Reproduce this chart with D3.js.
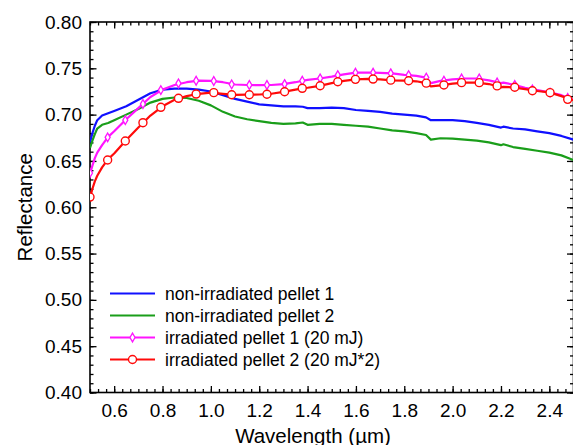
<!DOCTYPE html>
<meta charset="utf-8">
<style>
	body{ margin:0; background:#fff; }
	svg{ display:block; font-family:"Liberation Sans", Arial, sans-serif; }
	.tick line{ stroke:#000; stroke-width:1.3; }
	.tick text{ font-size:19px; fill:#000; }
	.frame{ fill:none; stroke:#000; stroke-width:1.6; }
	.title{ font-size:20.5px; fill:#000; }
	.legend text{ font-size:17.5px; fill:#000; }
</style>
<body>
<svg width="573" height="445" id="chart"></svg>
<script src="https://cdn.jsdelivr.net/npm/d3@7"></script>
<script>
	/* wavelength grid (um) used by the four spectra */
	var wave = [0.50,0.51,0.52,0.53,0.55,0.575,0.60,0.65,0.70,0.75,0.80,0.85,0.90,0.95,1.00,1.05,1.10,1.15,1.20,1.25,1.30,1.35,1.38,1.40,1.45,1.50,1.55,1.60,1.65,1.70,1.75,1.80,1.85,1.89,1.91,1.95,2.00,2.05,2.10,2.15,2.20,2.21,2.25,2.30,2.35,2.40,2.45,2.50];

	var nonIrr1 = [0.670,0.680,0.688,0.694,0.699,0.7015,0.704,0.709,0.716,0.723,0.727,0.728,0.728,0.727,0.725,0.721,0.717,0.714,0.711,0.710,0.709,0.709,0.7085,0.707,0.707,0.7075,0.707,0.705,0.704,0.703,0.701,0.700,0.699,0.697,0.694,0.694,0.694,0.693,0.691,0.689,0.686,0.687,0.685,0.684,0.682,0.680,0.677,0.673];
	var nonIrr2 = [0.664,0.672,0.679,0.685,0.689,0.691,0.694,0.700,0.706,0.713,0.717,0.7185,0.718,0.715,0.710,0.703,0.698,0.695,0.693,0.691,0.690,0.6905,0.6915,0.689,0.690,0.690,0.689,0.688,0.687,0.685,0.683,0.682,0.680,0.678,0.673,0.6745,0.674,0.673,0.672,0.670,0.667,0.668,0.665,0.663,0.661,0.659,0.656,0.651];
	var irr1 = [0.636,0.645,0.653,0.659,0.667,0.676,0.682,0.695,0.707,0.719,0.727,0.732,0.735,0.7368,0.7365,0.735,0.7325,0.732,0.7318,0.732,0.733,0.735,0.7366,0.7375,0.739,0.741,0.7435,0.7453,0.7455,0.745,0.7445,0.743,0.7418,0.740,0.734,0.7365,0.738,0.739,0.739,0.737,0.734,0.7345,0.7325,0.729,0.7265,0.724,0.721,0.716];
	var irr2 = [0.610,0.620,0.628,0.634,0.643,0.652,0.658,0.6725,0.686,0.699,0.709,0.716,0.720,0.7225,0.7237,0.7225,0.7213,0.7215,0.7217,0.7225,0.7245,0.727,0.7284,0.729,0.731,0.734,0.7365,0.7381,0.7385,0.738,0.737,0.7368,0.736,0.734,0.7305,0.7315,0.7335,0.7345,0.7345,0.733,0.7295,0.730,0.7295,0.7275,0.7255,0.724,0.720,0.7155];

	/* symbol positions on the irradiated spectra */
	var markWave = [0.500,0.573,0.646,0.719,0.793,0.866,0.939,1.012,1.086,1.159,1.232,1.305,1.378,1.452,1.525,1.598,1.671,1.744,1.818,1.891,1.964,2.037,2.110,2.184,2.257,2.330,2.403,2.476];
	var irr1Marks = [0.637,0.6755,0.694,0.7115,0.7265,0.7338,0.7366,0.7363,0.7327,0.732,0.732,0.733,0.7366,0.7392,0.7427,0.7453,0.7453,0.7446,0.7427,0.740,0.7366,0.739,0.739,0.7347,0.732,0.7273,0.7237,0.718];
	var irr2Marks = [0.611,0.651,0.6715,0.6913,0.7079,0.7176,0.7222,0.7237,0.7215,0.7215,0.722,0.7247,0.7284,0.7312,0.7355,0.7381,0.7384,0.7372,0.7366,0.734,0.732,0.7345,0.7345,0.731,0.7295,0.7258,0.7237,0.7165];

	var xTicks = [0.6,0.8,1.0,1.2,1.4,1.6,1.8,2.0,2.2,2.4];
	var yTicks = [0.40,0.45,0.50,0.55,0.60,0.65,0.70,0.75,0.80];
	var seriesNames = ["non-irradiated pellet 1","non-irradiated pellet 2","irradiated pellet 1 (20 mJ)","irradiated pellet 2 (20 mJ*2)"];
	var seriesColors = ["#1010ff","#1a9e1a","#ff14ff","#ff0a0a"];

	var L = 90, R = 573.5, T = 22, B = 392.5;
	var svg = d3.select("#chart");
	var x = d3.scaleLinear().domain([0.5, 2.5]).range([L, R]);
	var y = d3.scaleLinear().domain([0.40, 0.80]).range([B, T]);

	var xMinor = d3.range(0, 61).map(function(k){ return 0.5 + k/30; });
	var yMinor = d3.range(0, 41).map(function(k){ return 0.40 + k*0.01; });
	var fmt2 = d3.format(".2f"), fmt1 = d3.format(".1f");

	function ax(gen, tx, ty){
		var g = svg.append("g").attr("transform", "translate(" + tx + "," + ty + ")").call(gen);
		g.select(".domain").remove();
		return g;
	}
	// minor ticks
	ax(d3.axisBottom(x).tickValues(xMinor).tickSize(-3.5).tickFormat(""), 0, B);
	ax(d3.axisTop(x).tickValues(xMinor).tickSize(-3.5).tickFormat(""), 0, T);
	ax(d3.axisLeft(y).tickValues(yMinor).tickSize(-3.5).tickFormat(""), L, 0);
	ax(d3.axisRight(y).tickValues(yMinor).tickSize(-3.5).tickFormat(""), R, 0);
	// major ticks
	ax(d3.axisBottom(x).tickValues(xTicks).tickSize(-6.5).tickPadding(11).tickFormat(fmt1), 0, B);
	ax(d3.axisTop(x).tickValues(xTicks).tickSize(-6.5).tickFormat(""), 0, T);
	ax(d3.axisLeft(y).tickValues(yTicks).tickSize(-6.5).tickPadding(8).tickFormat(fmt2), L, 0);
	ax(d3.axisRight(y).tickValues(yTicks).tickSize(-6.5).tickFormat(""), R, 0);

	svg.append("rect").attr("class", "frame")
		.attr("x", L).attr("y", T).attr("width", R - L).attr("height", B - T);

	svg.append("clipPath").attr("id", "plotclip")
		.append("rect").attr("x", L).attr("y", T).attr("width", R - L).attr("height", B - T);

	var line = d3.line()
		.x(function(d){ return x(d[0]); })
		.y(function(d){ return y(d[1]); });

	var plot = svg.append("g").attr("clip-path", "url(#plotclip)");
	[nonIrr1, nonIrr2, irr1, irr2].forEach(function(vals, i){
		plot.append("path")
			.datum(wave.map(function(w, j){ return [w, vals[j]]; }))
			.attr("fill", "none")
			.attr("stroke", seriesColors[i])
			.attr("stroke-width", 2.2)
			.attr("stroke-linejoin", "round")
			.attr("d", line);
	});

	var diamond = d3.symbol().type(d3.symbolDiamond).size(22);
	plot.selectAll(".m1").data(markWave).enter().append("path")
		.attr("transform", function(w, j){ return "translate(" + x(w) + "," + y(irr1Marks[j]) + ")"; })
		.attr("d", diamond)
		.attr("fill", "#fff").attr("stroke", seriesColors[2]).attr("stroke-width", 1.3);
	plot.selectAll(".m2").data(markWave).enter().append("circle")
		.attr("cx", function(w){ return x(w); })
		.attr("cy", function(w, j){ return y(irr2Marks[j]); })
		.attr("r", 4)
		.attr("fill", "#fff").attr("stroke", seriesColors[3]).attr("stroke-width", 1.4);

	// legend
	var legend = svg.selectAll("g.legend").data(seriesNames).enter().append("g")
		.attr("class", "legend")
		.attr("transform", function(d, i){ return "translate(0," + (293.5 + i*22) + ")"; });
	legend.append("line")
		.attr("x1", 110).attr("x2", 155).attr("y1", 0).attr("y2", 0)
		.attr("stroke", function(d, i){ return seriesColors[i]; })
		.attr("stroke-width", 2.2);
	legend.filter(function(d, i){ return i == 2; }).append("path")
		.attr("transform", "translate(132.5,0)")
		.attr("d", diamond)
		.attr("fill", "#fff").attr("stroke", seriesColors[2]).attr("stroke-width", 1.3);
	legend.filter(function(d, i){ return i == 3; }).append("circle")
		.attr("cx", 132.5).attr("cy", 0).attr("r", 4)
		.attr("fill", "#fff").attr("stroke", seriesColors[3]).attr("stroke-width", 1.4);
	legend.append("text")
		.attr("x", 165).attr("y", 6)
		.text(function(d){ return d; });

	// axis titles
	svg.append("text").attr("class", "title")
		.attr("x", 313).attr("y", 443).attr("text-anchor", "middle")
		.text("Wavelength (µm)");
	svg.append("text").attr("class", "title")
		.attr("transform", "translate(32," + ((T + B)/2) + ") rotate(-90)")
		.attr("text-anchor", "middle")
		.text("Reflectance");
</script>
</body>
